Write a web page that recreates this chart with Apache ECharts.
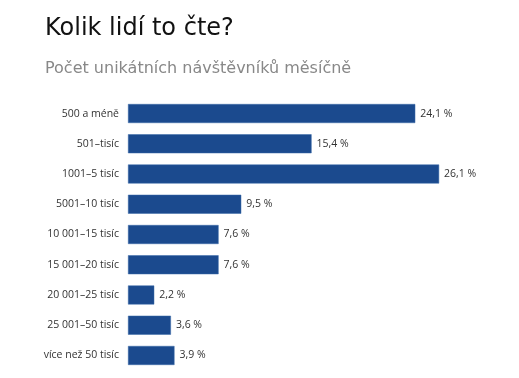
<!DOCTYPE html>
<html><head><meta charset="utf-8">
<script src="https://cdn.jsdelivr.net/npm/echarts@6/dist/echarts.min.js"></script>
<style>html,body{margin:0;padding:0;background:#fff}#c{width:519px;height:378px}</style>
</head><body><div id="c"></div>
<script>
var categories = ["500 a méně","501–tisíc","1001–5 tisíc","5001–10 tisíc","10 001–15 tisíc","15 001–20 tisíc","20 001–25 tisíc","25 001–50 tisíc","více než 50 tisíc"];
var values = [24.1, 15.4, 26.1, 9.5, 7.6, 7.6, 2.2, 3.6, 3.9];
var chart = echarts.init(document.getElementById('c'));
chart.setOption({
  animation: false,
  title: [
    {text: 'Kolik lidí to čte?', left: 40, top: 12, textStyle: {fontFamily: 'DejaVu Sans', fontSize: 24, fontWeight: 'normal', color: '#111'}},
    {text: 'Počet unikátních návštěvníků měsíčně', left: 40, top: 56, textStyle: {fontFamily: 'DejaVu Sans', fontSize: 16, fontWeight: 'normal', color: '#888'}}
  ],
  grid: {left: 128, top: 98.4, width: 26.1 * 11.92, height: 272.2, containLabel: false},
  xAxis: {type: 'value', min: 0, max: 26.1, show: false},
  yAxis: {type: 'category', inverse: true, data: categories,
    axisLine: {show: false}, axisTick: {show: false},
    axisLabel: {margin: 9, color: '#333', fontFamily: 'Open Sans', fontSize: 10.5}},
  series: [{type: 'bar', data: values, barWidth: 19,
    itemStyle: {color: '#1b4a8e', borderColor: '#3a6aa8', borderWidth: 0.5},
    label: {show: true, position: 'right', distance: 5, color: '#333', fontFamily: 'Open Sans', fontSize: 10.5,
      formatter: function(p){ return p.value.toFixed(1).replace('.', ',') + ' %'; }}
  }]
});
</script></body></html>
